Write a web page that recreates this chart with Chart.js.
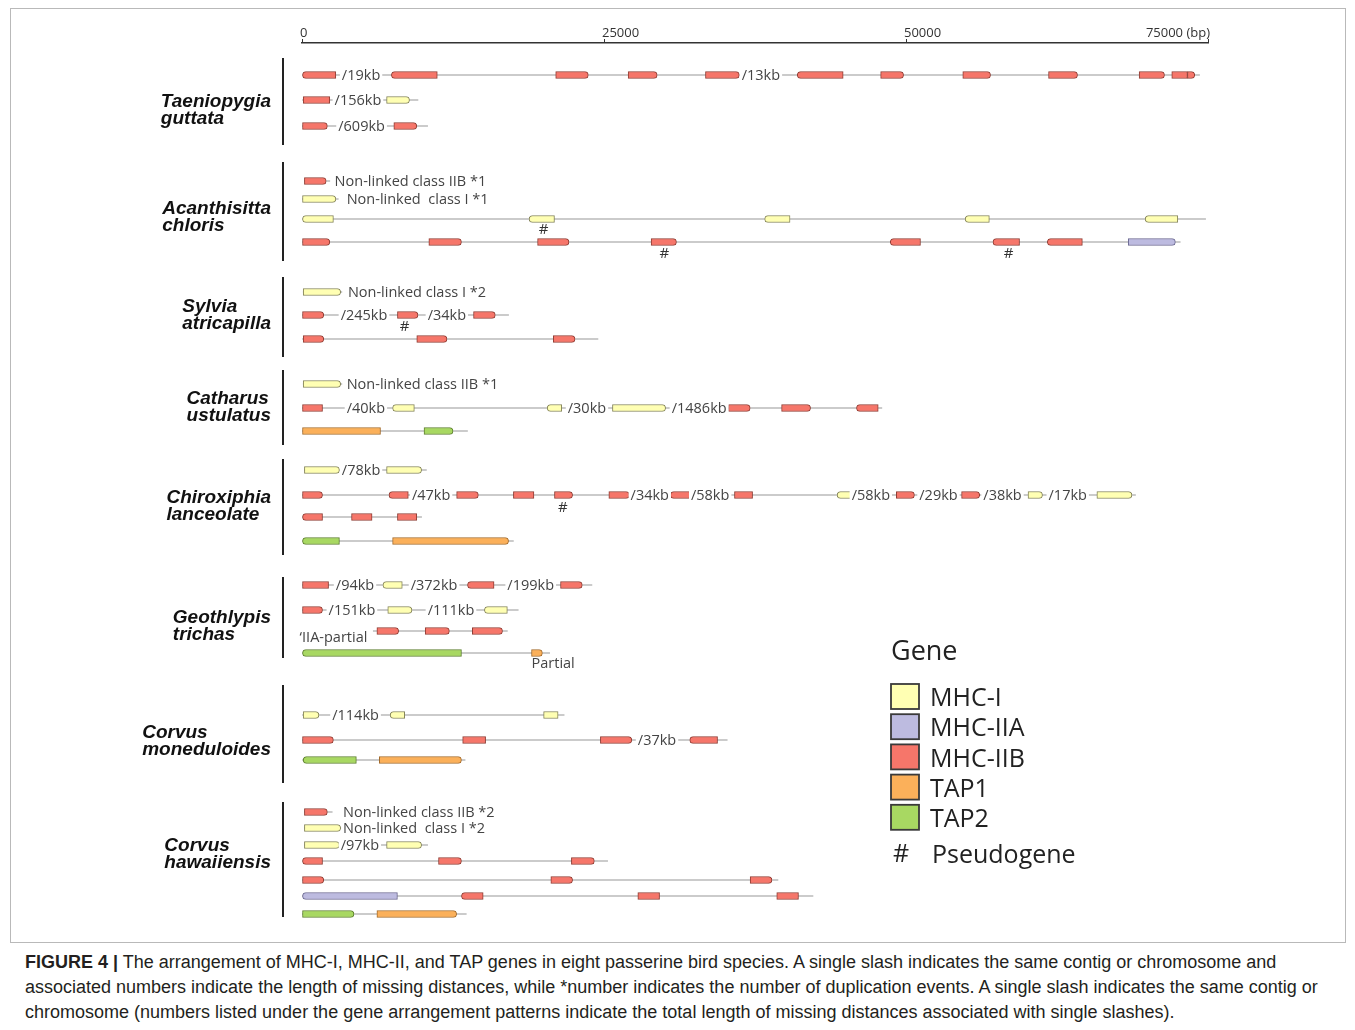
<!DOCTYPE html>
<html>
<head>
<meta charset="utf-8">
<script src="https://cdn.jsdelivr.net/npm/chart.js@4.4.1/dist/chart.umd.min.js"></script>
<style>
  html, body { margin: 0; padding: 0; background: #fff; }
  #wrap { position: relative; width: 1355px; height: 1030px; overflow: hidden; }
  #frame { position: absolute; left: 10px; top: 8px; width: 1334px; height: 933px; border: 1px solid #b9b9b9; }
  #chart { position: absolute; left: 0; top: 0; }
  #caption { position: absolute; left: 25px; top: 950px; font-family: "Liberation Sans", Arial, sans-serif;
             font-size: 18px; line-height: 25px; color: #231f20; white-space: nowrap; }
</style>
</head>
<body>
<div id="wrap">
  <div id="frame"></div>
  <canvas id="chart" width="1355" height="945"></canvas>
  <div id="caption"><b>FIGURE 4 |</b> The arrangement of MHC-I, MHC-II, and TAP genes in eight passerine bird species. A single slash indicates the same contig or chromosome and<br>associated numbers indicate the length of missing distances, while *number indicates the number of duplication events. A single slash indicates the same contig or<br>chromosome (numbers listed under the gene arrangement patterns indicate the total length of missing distances associated with single slashes).</div>
</div>
<script>
"use strict";

/* ── data ─────────────────────────────────────────────────────── */
const X_TICKS = [0, 25000, 50000, 75000];
const X_TICK_LABELS = ["0", "25000", "50000", "75000 (bp)"];

const GENE_TYPES = ["I", "IIA", "IIB", "TAP1", "TAP2"];
const LEGEND_LABELS = ["MHC-I", "MHC-IIA", "MHC-IIB", "TAP1", "TAP2"];

const SPECIES = [
  ["Taeniopygia", "guttata"], ["Acanthisitta", "chloris"], ["Sylvia", "atricapilla"],
  ["Catharus", "ustulatus"], ["Chiroxiphia", "lanceolate"], ["Geothlypis", "trichas"],
  ["Corvus", "moneduloides"], ["Corvus", "hawaiiensis"],
];
const SPECIES_LANE = [6.75, 17.4, 27.25, 36.4, 46.35, 58.35, 69.85, 81.15];
const SPECIES_SPAN = [[1.5, 10.2], [11.9, 21.8], [23.4, 31.4], [32.7, 40.2],
                      [41.6, 51.2], [53.4, 61.5], [64.2, 74.0], [75.9, 87.4]];

// [lane, start kb, end kb] grey contig line
const TRACKS = [
  [3.2, 0, 74.3], [5.7, 0, 9.6], [8.3, 0, 10.4],
  [13.8, 0.2, 2.3], [15.6, 0, 3.0], [17.6, 0, 74.8], [19.9, 0, 72.7],
  [24.9, 0.1, 3.3], [27.2, 0, 17.1], [29.6, 0, 24.5],
  [34.1, 0.1, 3.3], [36.5, 0, 48.0], [38.8, 0, 13.7],
  [42.7, 0.2, 10.3], [45.2, 0, 69.0], [47.4, 0, 9.9], [49.8, 0, 17.5],
  [54.2, 0, 24.0], [56.7, 0, 17.9], [58.8, 5.9, 17.0], [61.0, 0, 20.5],
  [67.2, 0, 21.7], [69.7, 0, 35.2], [71.7, 0, 13.5],
  [76.9, 0.2, 2.5], [78.5, 0.2, 3.3], [80.2, 0.2, 10.4], [81.8, 0, 25.3],
  [83.7, 0, 39.4], [85.3, 0, 42.3], [87.1, 0, 13.6],
];

// [lane, start kb, end kb, gene, strand]  strand 1 = right, -1 = left, 0 = blunt
const G_TAENIOPYGIA = [
  [3.2, 0, 2.8, "IIB", -1], [3.2, 7.4, 11.2, "IIB", -1], [3.2, 21.0, 23.7, "IIB", 1],
  [3.2, 27.0, 29.4, "IIB", 1], [3.2, 33.4, 36.2, "IIB", 1], [3.2, 41.0, 44.8, "IIB", -1],
  [3.2, 47.9, 49.8, "IIB", 1], [3.2, 54.7, 57.0, "IIB", 1], [3.2, 61.8, 64.2, "IIB", 1],
  [3.2, 69.3, 71.4, "IIB", 1], [3.2, 72.0, 73.3, "IIB", 0], [3.2, 73.3, 73.9, "IIB", 1],
  [5.7, 0.1, 2.3, "IIB", 0], [5.7, 7.0, 8.9, "I", 1],
  [8.3, 0, 2.1, "IIB", 1], [8.3, 7.6, 9.5, "IIB", 1],
];
const G_ACANTHISITTA = [
  [13.8, 0.2, 2.0, "IIB", 1],
  [15.6, 0, 2.8, "I", 1],
  [17.6, 0, 2.6, "I", -1], [17.6, 18.8, 20.9, "I", -1], [17.6, 38.3, 40.4, "I", -1],
  [17.6, 54.9, 56.9, "I", -1], [17.6, 69.8, 72.5, "I", -1],
  [19.9, 0, 2.3, "IIB", 1], [19.9, 10.5, 13.2, "IIB", 1], [19.9, 19.5, 22.1, "IIB", 1],
  [19.9, 28.9, 31.0, "IIB", 1], [19.9, 48.7, 51.2, "IIB", -1], [19.9, 57.2, 59.4, "IIB", -1],
  [19.9, 61.7, 64.6, "IIB", -1], [19.9, 68.4, 72.3, "IIA", 1],
];
const G_SYLVIA = [
  [24.9, 0.1, 3.2, "I", 1],
  [27.2, 0, 1.8, "IIB", 1], [27.2, 7.9, 9.6, "IIB", 1], [27.2, 14.2, 16.0, "IIB", 1],
  [29.6, 0.1, 1.8, "IIB", 1], [29.6, 9.5, 12.0, "IIB", 1], [29.6, 20.8, 22.6, "IIB", 1],
];
const G_CATHARUS = [
  [34.1, 0.1, 3.2, "I", 1],
  [36.5, 0, 1.7, "IIB", 0], [36.5, 7.5, 9.3, "I", -1], [36.5, 20.3, 21.5, "I", -1],
  [36.5, 25.7, 30.1, "I", 1], [36.5, 35.3, 37.1, "IIB", 1], [36.5, 39.7, 42.1, "IIB", 1],
  [36.5, 45.9, 47.7, "IIB", -1],
  [38.8, 0, 6.5, "TAP1", 0], [38.8, 10.1, 12.5, "TAP2", 1],
];
const G_CHIROXIPHIA = [
  [42.7, 0.2, 3.1, "I", 1], [42.7, 7.0, 9.9, "I", 1],
  [45.2, 0, 1.7, "IIB", 1], [45.2, 7.2, 8.8, "IIB", -1], [45.2, 12.8, 14.6, "IIB", 1],
  [45.2, 17.5, 19.2, "IIB", 0], [45.2, 20.9, 22.4, "IIB", 1], [45.2, 25.4, 27.1, "IIB", 1],
  [45.2, 30.5, 32.1, "IIB", -1], [45.2, 35.8, 37.3, "IIB", 0], [45.2, 44.3, 45.5, "I", -1],
  [45.2, 49.2, 50.7, "IIB", 1], [45.2, 54.6, 56.1, "IIB", 1], [45.2, 60.1, 61.3, "I", 1],
  [45.2, 65.8, 68.7, "I", 1],
  [47.4, 0, 1.7, "IIB", -1], [47.4, 4.1, 5.8, "IIB", 0], [47.4, 7.9, 9.5, "IIB", 0],
  [49.8, 0, 3.1, "TAP2", -1], [49.8, 7.5, 17.1, "TAP1", 1],
];
const G_GEOTHLYPIS = [
  [54.2, 0, 2.2, "IIB", 0], [54.2, 6.7, 8.3, "I", -1], [54.2, 13.7, 15.9, "IIB", -1],
  [54.2, 21.4, 23.2, "IIB", 1],
  [56.7, 0, 1.7, "IIB", 1], [56.7, 7.1, 9.1, "I", 1], [56.7, 15.1, 17.0, "I", -1],
  [58.8, 6.2, 8.0, "IIB", 1], [58.8, 10.2, 12.2, "IIB", 1], [58.8, 14.1, 16.6, "IIB", 1],
  [61.0, 0, 13.2, "TAP2", -1], [61.0, 19.0, 19.9, "TAP1", 1],
];
const G_CORVUS_MON = [
  [67.2, 0.1, 1.4, "I", 1], [67.2, 7.3, 8.5, "I", -1], [67.2, 20.0, 21.2, "I", 0],
  [69.7, 0, 2.6, "IIB", 1], [69.7, 13.3, 15.2, "IIB", 0], [69.7, 24.7, 27.3, "IIB", 1],
  [69.7, 32.1, 34.4, "IIB", -1],
  [71.7, 0.1, 4.5, "TAP2", -1], [71.7, 6.4, 13.2, "TAP1", 1],
];
const G_CORVUS_HAW = [
  [76.9, 0.2, 2.1, "IIB", 1],
  [78.5, 0.2, 3.2, "I", 1],
  [80.2, 0.2, 3.1, "I", 1], [80.2, 7.0, 9.9, "I", 1],
  [81.8, 0, 1.7, "IIB", -1], [81.8, 11.3, 13.2, "IIB", 1], [81.8, 22.3, 24.2, "IIB", 1],
  [83.7, 0, 1.8, "IIB", 1], [83.7, 20.6, 22.4, "IIB", 1], [83.7, 37.1, 38.9, "IIB", 1],
  [85.3, 0, 7.9, "IIA", -1], [85.3, 13.2, 15.0, "IIB", -1], [85.3, 27.8, 29.6, "IIB", 0],
  [85.3, 39.3, 41.1, "IIB", 0],
  [87.1, 0, 4.3, "TAP2", 1], [87.1, 6.2, 12.8, "TAP1", 1],
];

// [lane, x kb, text]
const GAP_LABELS = [
  [3.2, 3.3, "/19kb"], [3.2, 36.4, "/13kb"], [5.7, 2.7, "/156kb"], [8.3, 3.0, "/609kb"],
  [13.8, 2.7, "Non-linked class IIB *1"], [15.6, 3.7, "Non-linked  class I *1"],
  [24.9, 3.8, "Non-linked class I *2"], [27.2, 3.2, "/245kb"], [27.2, 10.4, "/34kb"],
  [34.1, 3.7, "Non-linked class IIB *1"], [36.5, 3.7, "/40kb"], [36.5, 22.0, "/30kb"],
  [36.5, 30.6, "/1486kb"],
  [42.7, 3.3, "/78kb"], [45.2, 9.1, "/47kb"], [45.2, 27.2, "/34kb"], [45.2, 32.2, "/58kb"],
  [45.2, 45.5, "/58kb"], [45.2, 51.1, "/29kb"], [45.2, 56.4, "/38kb"], [45.2, 61.8, "/17kb"],
  [54.2, 2.8, "/94kb"], [54.2, 9.0, "/372kb"], [54.2, 17.0, "/199kb"],
  [56.7, 2.2, "/151kb"], [56.7, 10.4, "/111kb"],
  [59.4, -0.2, "‘IIA-partial"], [62.0, 19.0, "Partial"],
  [67.2, 2.5, "/114kb"], [69.7, 27.8, "/37kb"],
  [76.9, 3.4, "Non-linked class IIB *2"], [78.5, 3.4, "Non-linked  class I *2"], [80.2, 3.2, "/97kb"],
];

// [lane, x kb] pseudogene marks
const PSEUDO = [[18.7, 20.0], [21.1, 30.0], [21.1, 58.5], [28.4, 8.5], [46.5, 21.6]];

/* ── styles ───────────────────────────────────────────────────── */
const TYPE_COLORS = {
  "I":    { fill: "#ffffb3", line: "#85855a" },
  "IIA":  { fill: "#bdbbe0", line: "#6b6991" },
  "IIB":  { fill: "#f6766a", line: "#8f3d34" },
  "TAP1": { fill: "#fbb05a", line: "#a36a2a" },
  "TAP2": { fill: "#a8d862", line: "#5d7f30" },
};
const TEXT_FONT = "'Open Sans', 'Noto Sans', sans-serif";

const GENE_ROWS = [
  ...G_TAENIOPYGIA, ...G_ACANTHISITTA, ...G_SYLVIA, ...G_CATHARUS,
  ...G_CHIROXIPHIA, ...G_GEOTHLYPIS, ...G_CORVUS_MON, ...G_CORVUS_HAW,
];

function strandRadius(c) {
  const d = c.raw ? c.raw.dir : 0;
  const r = 4;
  if (d > 0) return { topLeft: 0, bottomLeft: 0, topRight: r, bottomRight: r };
  if (d < 0) return { topLeft: r, bottomLeft: r, topRight: 0, bottomRight: 0 };
  return 0;
}

const datasets = GENE_TYPES.map((t, i) => ({
  label: LEGEND_LABELS[i],
  data: GENE_ROWS.filter(g => g[3] === t).map(g => ({ x: [g[1] * 1000, g[2] * 1000], y: g[0], dir: g[4] })),
  backgroundColor: TYPE_COLORS[t].fill,
  borderColor: TYPE_COLORS[t].line,
  borderWidth: 1,
  borderSkipped: false,
  borderRadius: strandRadius,
  barThickness: 7,
  grouped: false,
  clip: false,
  order: 1,
}));
datasets.push({
  label: "contig",
  data: TRACKS.map(t => ({ x: [t[1] * 1000, t[2] * 1000], y: t[0] })),
  backgroundColor: "#cbcbcb",
  borderWidth: 0,
  barThickness: 1.4,
  grouped: false,
  clip: false,
  order: 2,
});

/* ── annotations: names, labels, legend ──────────────────────── */
const annotPlugin = {
  id: "annot",
  afterDraw(chart) {
    const { ctx, chartArea, scales: { x, y } } = chart;
    ctx.save();

    // axis tick labels
    ctx.font = "13px " + TEXT_FONT;
    ctx.fillStyle = "#333";
    ctx.textBaseline = "alphabetic";
    X_TICKS.forEach((v, i) => {
      const px = x.getPixelForValue(v);
      const last = i === X_TICKS.length - 1;
      ctx.textAlign = last ? "right" : "left";
      ctx.fillText(X_TICK_LABELS[i], last ? px + 2 : px - 2, chartArea.top - 6);
    });

    // species names + brackets
    ctx.font = "bold italic 19px 'Liberation Sans', Arial, sans-serif";
    ctx.fillStyle = "#111";
    ctx.textAlign = "left";
    ctx.textBaseline = "middle";
    SPECIES.forEach((lines, i) => {
      const cy = y.getPixelForValue(SPECIES_LANE[i]);
      const w = Math.max(...lines.map(l => ctx.measureText(l).width));
      const left = chartArea.left - 31 - w;
      lines.forEach((l, k) => ctx.fillText(l, left, cy + (k - 0.5) * 17));
      const [a, b] = SPECIES_SPAN[i];
      ctx.strokeStyle = "#222";
      ctx.lineWidth = 2;
      ctx.beginPath();
      ctx.moveTo(chartArea.left - 19, y.getPixelForValue(a));
      ctx.lineTo(chartArea.left - 19, y.getPixelForValue(b));
      ctx.stroke();
    });

    // gap / duplication labels
    ctx.font = "14.5px " + TEXT_FONT;
    GAP_LABELS.forEach(([lane, kb, text]) => {
      const px = x.getPixelForValue(kb * 1000);
      const py = y.getPixelForValue(lane);
      const w = ctx.measureText(text).width;
      ctx.fillStyle = "#fff";
      ctx.fillRect(px - 2, py - 6, w + 4, 12);
      ctx.fillStyle = "#444";
      ctx.fillText(text, px, py + 1);
    });

    // pseudogene marks
    ctx.font = "15px " + TEXT_FONT;
    ctx.textAlign = "center";
    ctx.fillStyle = "#333";
    PSEUDO.forEach(([lane, kb]) => {
      ctx.fillText("#", x.getPixelForValue(kb * 1000), y.getPixelForValue(lane));
    });

    // legend
    const lx = 891, ly = 684;
    ctx.textAlign = "left";
    ctx.fillStyle = "#222";
    ctx.font = "27px " + TEXT_FONT;
    ctx.fillText("Gene", lx, 652);
    ctx.font = "25px " + TEXT_FONT;
    GENE_TYPES.forEach((t, i) => {
      const top = ly + i * 30.2;
      ctx.fillStyle = TYPE_COLORS[t].fill;
      ctx.fillRect(lx, top, 28, 25);
      ctx.strokeStyle = "#3a3a3a";
      ctx.lineWidth = 1.8;
      ctx.strokeRect(lx, top, 28, 25);
      ctx.fillStyle = "#222";
      ctx.fillText(LEGEND_LABELS[i], lx + 39, top + 15);
    });
    ctx.fillText("#", lx + 2, 855);
    ctx.fillText("Pseudogene", lx + 41, 856);

    ctx.restore();
  },
};

new Chart(document.getElementById("chart"), {
  type: "bar",
  data: { datasets },
  options: {
    indexAxis: "y",
    responsive: false,
    animation: false,
    layout: { padding: { left: 302, right: 147, top: 39, bottom: 15 } },
    plugins: { legend: { display: false }, tooltip: { enabled: false } },
    scales: {
      x: {
        type: "linear", position: "top", min: 0, max: 75000, offset: false,
        afterBuildTicks: s => { s.ticks = X_TICKS.map(v => ({ value: v })); },
        ticks: { display: false },
        grid: { drawOnChartArea: false, drawTicks: true, tickLength: 4, color: "#333", lineWidth: 1 },
        border: { display: true, color: "#333", width: 1.5 },
      },
      y: {
        type: "linear", display: false, min: 0, max: 88.7, reverse: true, offset: false,
      },
    },
  },
  plugins: [annotPlugin],
});
</script>
</body>
</html>
